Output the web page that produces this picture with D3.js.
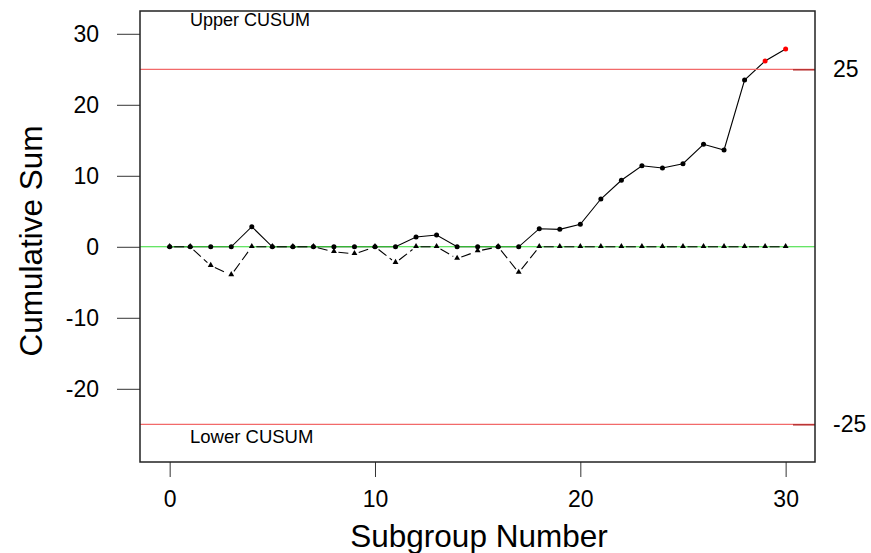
<!DOCTYPE html>
<html>
<head>
<meta charset="utf-8">
<script src="https://d3js.org/d3.v7.min.js"></script>
<style>
  body { margin: 0; background: #fff; }
  text { font-family: "Liberation Sans", Arial, sans-serif; fill: #000; }
</style>
</head>
<body>
<svg class="chart" width="871" height="553"></svg>
<script>

// subgroup index 0..30
let subgroups = d3.range(0, 31);
let upper = [0, 0, 0, 0, 2.83, 0, 0, 0, 0, 0, 0, 0, 1.38, 1.66, 0, 0, 0, 0, 2.55, 2.46,
             3.17, 6.73, 9.37, 11.42, 11.1, 11.7, 14.44, 13.63, 23.49, 26.17, 27.86];
let lower = [0, 0, -2.66, -3.97, 0, 0, 0, 0, -0.69, -1.0, 0, -2.24, 0, 0, -1.67, -0.6, 0, -3.64, 0, 0,
             0, 0, 0, 0, 0, 0, 0, 0, 0, 0, 0];
let limits = [25, -25];
let xTicks = [0, 10, 20, 30];
let yTicks = [-20, -10, 0, 10, 20, 30];

const svg = d3.select('.chart');
const pLeft = 140, pRight = 815, pTop = 11, pBottom = 462;
const fmt = d => String(d); // plain hyphen minus, like the original

let x = d3.scaleLinear().domain([-1.445, 31.43]).range([pLeft, pRight]);
let y = d3.scaleLinear().domain([-30.31, 33.21]).range([pBottom, pTop]);

// axes
const ax = svg.append('g').attr('transform', `translate(0,${pBottom})`)
    .call(d3.axisBottom(x).tickValues(xTicks).tickFormat(fmt).tickSize(15).tickPadding(14));
const ay = svg.append('g').attr('transform', `translate(${pLeft},0)`)
    .call(d3.axisLeft(y).tickValues(yTicks).tickFormat(fmt).tickSize(23).tickPadding(18));
[ax, ay].forEach(g => {
  g.select('.domain').remove();
  g.selectAll('line').attr('stroke', '#333');
  g.selectAll('text').style('font-size', '23px').attr('font-family', null);
});

// upper cusum line (solid)
svg.append('path')
    .datum(subgroups)
    .attr('fill', 'none')
    .attr('stroke', '#000')
    .attr('stroke-width', 1.1)
    .attr('d', d3.line().x(i => x(i)).y(i => y(upper[i])));

// decision limits
svg.selectAll('.limit').data(limits).enter().append('line')
    .attr('x1', pLeft).attr('x2', pRight)
    .attr('y1', d => y(d)).attr('y2', d => y(d))
    .attr('stroke', '#f26a6a').attr('stroke-width', 1.3);

// center line
svg.append('line')
    .attr('x1', pLeft).attr('x2', pRight)
    .attr('y1', y(0)).attr('y2', y(0))
    .attr('stroke', '#33dd33').attr('stroke-width', 1.1);

// lower cusum, dashed with gaps at the points
const gap = 4.5;
svg.selectAll('.lseg').data(subgroups.slice(1)).enter().append('line')
    .each(function(i) {
      let x0 = x(i - 1), y0 = y(lower[i - 1]), x1 = x(i), y1 = y(lower[i]);
      let len = Math.hypot(x1 - x0, y1 - y0), ux = (x1 - x0) / len, uy = (y1 - y0) / len;
      d3.select(this)
        .attr('x1', x0 + ux * gap).attr('y1', y0 + uy * gap)
        .attr('x2', x1 - ux * gap).attr('y2', y1 - uy * gap);
    })
    .attr('stroke', '#000').attr('stroke-width', 1.1)
    .attr('stroke-dasharray', '10,4');

// triangles
svg.selectAll('.tri').data(subgroups).enter().append('path')
    .attr('d', d3.symbol().type(d3.symbolTriangle).size(15))
    .attr('transform', i => `translate(${x(i)},${y(lower[i]) - 0.5})`)
    .attr('fill', '#000');

// circles
svg.selectAll('.pt').data(subgroups).enter().append('circle')
    .attr('cx', i => x(i)).attr('cy', i => y(upper[i]))
    .attr('r', 2.5)
    .attr('fill', i => upper[i] > limits[0] ? '#ff0000' : '#000');

// right axis ticks at limits
const ar = svg.append('g').attr('transform', `translate(${pRight},0)`)
    .call(d3.axisRight(y).tickValues(limits).tickFormat(fmt).tickSize(-22).tickPadding(18));
ar.select('.domain').remove();
ar.selectAll('line').attr('stroke', '#b83232').attr('stroke-width', 1.5);
ar.selectAll('text').style('font-size', '23px').attr('font-family', null);

// frame
svg.append('rect')
    .attr('x', pLeft).attr('y', pTop)
    .attr('width', pRight - pLeft).attr('height', pBottom - pTop)
    .attr('fill', 'none').attr('stroke', '#222').attr('stroke-width', 1.5);

// labels
svg.append('text').attr('x', 190).attr('y', 26).style('font-size', '18px').text('Upper CUSUM');
svg.append('text').attr('x', 190).attr('y', 443).style('font-size', '18.5px').text('Lower CUSUM');
svg.append('text').attr('x', 479).attr('y', 547).attr('text-anchor', 'middle')
    .style('font-size', '31.5px').text('Subgroup Number');
svg.append('text').attr('transform', 'translate(42,241) rotate(-90)').attr('text-anchor', 'middle')
    .style('font-size', '31.5px').text('Cumulative Sum');

</script>
</body>
</html>
